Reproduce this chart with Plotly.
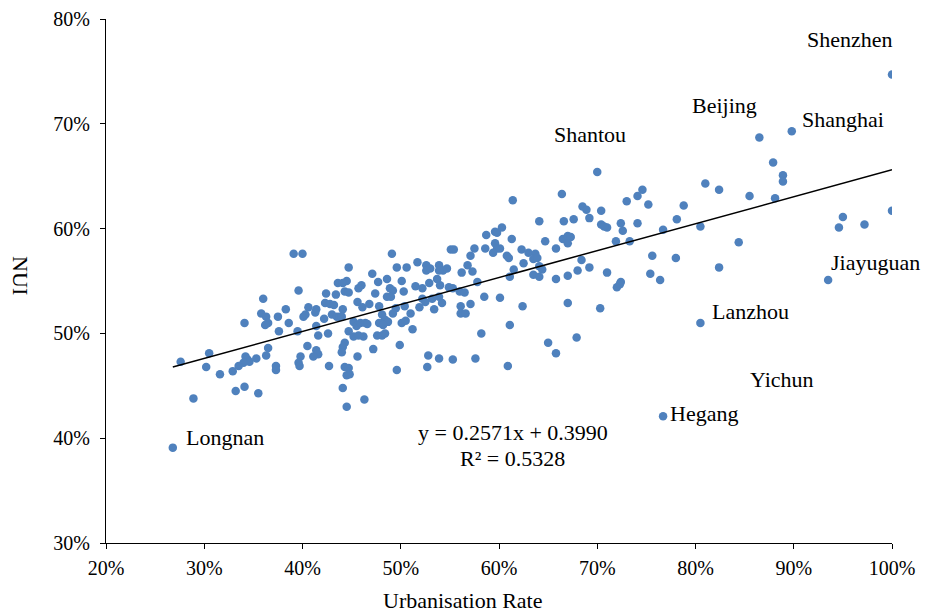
import plotly.graph_objects as go

# Urbanisation rate (%) and NUI (%) for each city
urban = [
    39.1, 40.0, 43.6, 39.6, 36.0, 42.4, 43.4, 38.3, 35.8, 36.3, 36.5, 36.2, 37.5, 38.6, 34.1,
    40.1, 40.3, 40.6, 41.4, 41.3, 42.3, 42.8, 43.2, 43.0, 43.5, 43.8, 42.2, 41.4, 37.6, 39.5,
    41.6, 42.6, 36.5, 40.5, 41.4, 41.6, 41.1, 39.8, 36.3, 30.5, 27.6, 34.2, 34.4, 34.6, 34.0,
    35.3, 33.5, 32.9, 30.2, 31.6, 37.3, 37.3, 39.6, 39.7, 42.7, 33.2, 34.1, 35.5, 28.9, 26.8,
    44.7, 44.5, 44.1, 44.3, 44.7, 44.1, 44.0, 44.7, 44.3, 44.1, 44.0, 44.3, 44.7, 44.5, 44.8,
    44.1, 44.5,
    58.7, 59.6, 59.8, 59.6, 59.8, 59.4, 58.6, 57.5, 57.1, 56.8, 55.1, 55.4, 49.1, 51.7, 52.6,
    53.0, 52.6, 53.9, 54.7, 54.3, 53.9, 49.6, 50.6, 47.1, 56.2, 57.3, 48.6, 47.7, 50.1, 46.0,
    45.7, 47.4, 48.9, 49.2, 48.6, 49.0, 50.3, 51.5, 52.2, 52.9, 53.7, 54.0, 54.9, 55.3, 56.0,
    56.5, 57.8, 58.5, 45.6, 46.1, 46.8, 47.8, 52.2, 52.5, 53.2, 53.4, 54.2, 53.9, 51.9, 49.5,
    50.4, 51.0, 56.1, 57.1, 56.1, 56.6, 48.1, 48.4, 47.8, 48.7, 48.2, 49.2, 45.2, 45.5, 45.9,
    46.4, 46.6, 50.1, 50.5, 51.2, 45.2, 45.7, 46.2, 47.6, 48.1, 48.4, 47.2, 49.9, 45.6, 58.2,
    52.8, 53.9, 55.3, 57.6, 52.7, 49.6, 46.3,
    70.0, 66.4, 61.4, 74.6, 74.1, 73.0, 75.2, 68.5, 68.9, 70.4, 64.1, 66.6, 67.6, 69.2, 70.4,
    71.0, 70.7, 72.4, 72.6, 74.1, 78.1, 76.7, 60.3, 61.3, 64.7, 66.5, 67.0, 67.3, 67.0, 71.9,
    73.3, 65.8, 62.3, 63.0, 63.7, 60.8, 61.0, 62.5, 63.5, 63.9, 60.1, 64.1, 64.4, 63.5, 64.1,
    61.5, 61.1, 68.4, 69.2, 68.0, 67.0, 65.8, 71.0, 72.4, 72.0, 72.3, 75.6, 78.0, 75.4, 76.4,
    60.1, 62.4, 67.0, 70.3, 61.1, 65.0, 65.8, 67.9, 60.9, 76.7,
    86.5, 89.8, 87.9, 88.9, 88.9, 81.0, 82.4, 85.5, 88.1, 78.8, 80.5, 84.4, 82.4, 95.0, 94.6,
    97.2, 100.0, 93.5, 80.5, 100.0,
]
nui = [
    57.6, 57.6, 54.8, 54.1, 53.3, 53.8, 53.7, 52.3, 51.9, 51.6, 51.0, 50.8, 51.6, 51.0, 51.0,
    51.6, 51.8, 52.5, 52.3, 52.0, 52.9, 52.8, 52.7, 51.8, 51.6, 51.6, 51.4, 50.7, 50.2, 50.2,
    49.8, 50.0, 48.6, 48.8, 48.4, 48.0, 47.8, 47.8, 47.9, 48.1, 47.3, 47.8, 47.5, 47.3, 47.2,
    47.6, 46.9, 46.4, 46.8, 46.1, 46.9, 46.5, 47.2, 46.9, 46.9, 44.5, 44.9, 44.3, 43.8, 39.1,
    56.3, 55.0, 54.8, 54.0, 53.9, 52.3, 51.6, 50.2, 49.1, 48.7, 48.2, 46.8, 46.7, 46.0, 46.1,
    44.8, 43.0,
    59.4, 59.7, 59.6, 58.6, 58.1, 57.7, 58.1, 58.1, 57.4, 56.5, 58.0, 58.0, 57.6, 56.8, 56.5,
    56.2, 56.0, 56.5, 56.2, 56.0, 56.0, 56.3, 56.3, 55.7, 55.8, 55.9, 55.2, 54.9, 55.0, 54.6,
    54.3, 53.8, 54.3, 54.1, 53.5, 53.5, 54.0, 54.5, 54.3, 54.8, 55.2, 54.6, 54.4, 54.3, 54.0,
    53.9, 54.9, 53.5, 53.0, 52.5, 52.8, 52.6, 53.3, 53.0, 53.3, 52.3, 52.9, 53.5, 52.5, 52.4,
    52.6, 51.9, 52.6, 52.8, 51.9, 51.9, 51.8, 51.3, 51.0, 51.1, 50.8, 51.9, 51.1, 50.7, 51.0,
    51.0, 50.9, 51.0, 51.2, 50.4, 49.7, 49.8, 49.7, 49.8, 49.8, 50.0, 48.5, 48.9, 47.8, 50.0,
    47.9, 47.6, 47.5, 47.6, 46.8, 46.5, 43.7,
    65.4, 63.3, 62.7, 63.7, 63.1, 62.6, 62.3, 62.1, 61.8, 61.7, 60.7, 60.7, 60.9, 61.0, 60.4,
    60.1, 60.2, 60.5, 59.8, 60.5, 60.9, 59.9, 60.1, 59.0, 58.8, 59.0, 59.3, 59.2, 58.6, 58.8,
    58.8, 58.1, 58.0, 57.7, 57.6, 57.4, 57.2, 56.7, 57.1, 57.2, 58.1, 56.4, 56.1, 55.6, 55.4,
    56.1, 55.4, 57.0, 56.3, 56.0, 55.5, 55.2, 55.8, 54.9, 54.4, 54.7, 57.4, 57.2, 55.7, 55.1,
    53.4, 52.6, 52.9, 52.4, 50.8, 49.1, 48.1, 49.6, 46.9, 42.1,
    68.7, 69.3, 66.3, 65.1, 64.5, 64.3, 63.7, 63.1, 62.9, 62.2, 60.2, 58.7, 56.3, 61.1, 60.1,
    60.4, 61.7, 55.1, 51.0, 74.7,
]

# linear trend (fractions): y = 0.2571x + 0.3990
slope = 0.2571
intercept = 0.3990
r2 = 0.5328

city_names = ["Shenzhen", "Beijing", "Shanghai", "Shantou", "Jiayuguan",
              "Lanzhou", "Yichun", "Hegang", "Longnan"]
city_label_x = [95.7, 83.0, 95.05, 69.3, 98.3, 85.6, 88.8, 80.9, 32.1]
city_label_y = [78.0, 71.7, 70.4, 69.0, 56.8, 52.1, 45.6, 42.4, 40.1]

x_ticks = [20, 30, 40, 50, 60, 70, 80, 90, 100]
x_tick_labels = ["20%", "30%", "40%", "50%", "60%", "70%", "80%", "90%", "100%"]
y_ticks = [30, 40, 50, 60, 70, 80]
y_tick_labels = ["30%", "40%", "50%", "60%", "70%", "80%"]

FONT = "Liberation Serif, Times New Roman, serif"

fig = go.Figure()
fig.add_trace(go.Scatter(
    x=urban, y=nui, mode="markers",
    marker=dict(size=8.5, color="#4F81BD", line=dict(width=0)),
    hoverinfo="skip", showlegend=False,
))

x0, x1 = min(urban), max(urban)
fig.add_trace(go.Scatter(
    x=[x0, x1],
    y=[100 * (slope * x0 / 100 + intercept), 100 * (slope * x1 / 100 + intercept)],
    mode="lines", line=dict(color="black", width=1.5),
    hoverinfo="skip", showlegend=False,
))

annotations = []
for name, ax_, ay_ in zip(city_names, city_label_x, city_label_y):
    annotations.append(dict(x=ax_, y=ay_, xref="x", yref="y", text=name,
                            xanchor="center", yanchor="middle",
                            showarrow=False, font=dict(family=FONT, size=22, color="black")))

annotations.append(dict(x=61.4, y=40.5, xref="x", yref="y",
                        text=f"y = {slope:.4f}x + {intercept:.4f}", showarrow=False,
                        xanchor="center", yanchor="middle",
                        font=dict(family=FONT, size=22, color="black")))
annotations.append(dict(x=61.4, y=38.1, xref="x", yref="y",
                        text=f"R² = {r2:.4f}", showarrow=False,
                        xanchor="center", yanchor="middle",
                        font=dict(family=FONT, size=22, color="black")))
annotations.append(dict(x=0.454, y=-0.109, xref="paper", yref="paper",
                        text="Urbanisation Rate", showarrow=False,
                        xanchor="center", yanchor="middle",
                        font=dict(family=FONT, size=22, color="black")))
annotations.append(dict(x=-0.108, y=0.511, xref="paper", yref="paper",
                        text="NUI", textangle=90, showarrow=False,
                        xanchor="center", yanchor="middle",
                        font=dict(family=FONT, size=22, color="black")))

# page body has an 8px default margin, so the figure is sized to compensate
fig.update_layout(
    width=923, height=606,
    margin=dict(l=98, r=39, t=11, b=71),
    paper_bgcolor="white", plot_bgcolor="white",
    font=dict(family=FONT, size=20, color="black"),
    annotations=annotations,
    xaxis=dict(range=[20, 100], tickvals=x_ticks, ticktext=x_tick_labels,
               automargin=False, ticklabelstandoff=2,
               showgrid=False, zeroline=False, showline=True, linecolor="black",
               linewidth=1.3, ticks="outside", ticklen=5, tickcolor="black",
               tickwidth=1.3, tickfont=dict(family=FONT, size=20, color="black")),
    yaxis=dict(range=[30, 80], tickvals=y_ticks, ticktext=y_tick_labels,
               automargin=False, ticklabelstandoff=6,
               showgrid=False, zeroline=False, showline=True, linecolor="black",
               linewidth=1.3, ticks="outside", ticklen=5, tickcolor="black",
               tickwidth=1.3, tickfont=dict(family=FONT, size=20, color="black")),
)

fig.write_html("out.html")
